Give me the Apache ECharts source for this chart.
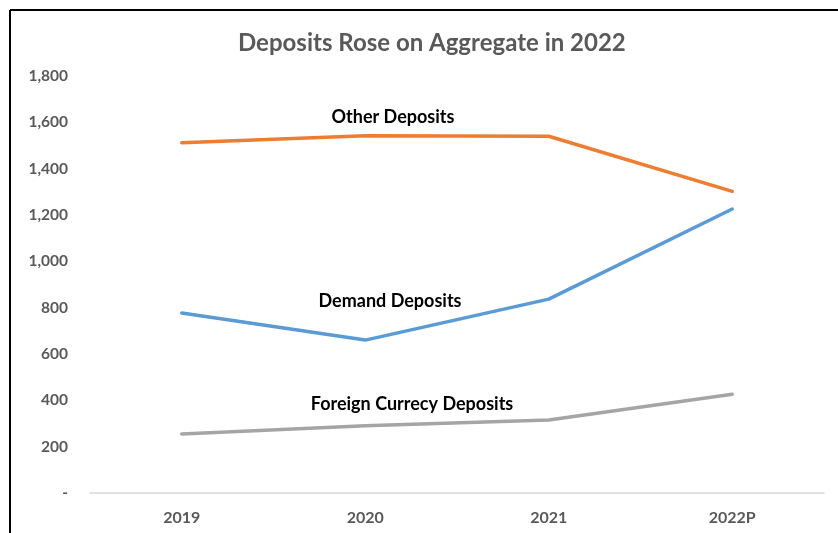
<!DOCTYPE html>
<html>
<head>
<meta charset="utf-8">
<script src="https://cdn.jsdelivr.net/npm/echarts@6/dist/echarts.min.js"></script>
<style>
  html, body { margin: 0; padding: 0; background: #fff; }
  #chart { width: 838px; height: 533px; }
</style>
</head>
<body>
<div id="chart"></div>
<script>
// Deposit totals by year (2022 provisional)
const years = ['2019', '2020', '2021', '2022P'];
const otherDeposits = [1512, 1542, 1540, 1302];
const demandDeposits = [777, 660, 837, 1226];
const foreignCurrencyDeposits = [255, 290, 315, 426];
const yTicks = { min: 0, max: 1800, interval: 200 };

const FONT = 'Lato, "Open Sans", sans-serif';
const GREY = '#595959';

const chart = echarts.init(document.getElementById('chart'), null, { renderer: 'canvas' });

function lineSeries(name, data, color) {
  return {
    name: name,
    type: 'line',
    data: data,
    symbol: 'none',
    lineStyle: { color: color, width: 3.5, cap: 'round', join: 'round' },
    itemStyle: { color: color },
    animation: false
  };
}

chart.setOption({
  backgroundColor: '#fff',
  title: {
    text: 'Deposits Rose on Aggregate in 2022',
    left: 233,
    top: 26,
    textStyle: { fontFamily: FONT, fontSize: 24, fontWeight: 'bold', color: GREY }
  },
  grid: { left: 90, right: 14, top: 76, bottom: 40, containLabel: false },
  xAxis: {
    type: 'category',
    data: years,
    boundaryGap: true,
    axisLine: { lineStyle: { color: '#d9d9d9', width: 1.5 } },
    axisTick: { show: false },
    axisLabel: { fontFamily: FONT, fontSize: 16, fontWeight: 'bold', color: GREY, margin: 17 }
  },
  yAxis: {
    type: 'value',
    min: yTicks.min,
    max: yTicks.max,
    interval: yTicks.interval,
    splitLine: { show: false },
    axisLine: { show: false },
    axisTick: { show: false },
    axisLabel: {
      fontFamily: FONT, fontSize: 15.5, fontWeight: 'bold', color: GREY, margin: 22,
      formatter: v => v === 0 ? '-' : v.toLocaleString('en-US')
    }
  },
  series: [
    lineSeries('Other Deposits', otherDeposits, '#ed7d31'),
    lineSeries('Demand Deposits', demandDeposits, '#5b9bd5'),
    lineSeries('Foreign Currecy Deposits', foreignCurrencyDeposits, '#a5a5a5')
  ],
  graphic: [
    // frame along the top and left edges
    { type: 'line', shape: { x1: 10, y1: 10, x2: 838, y2: 10 }, style: { stroke: '#000', lineWidth: 2 } },
    { type: 'line', shape: { x1: 10, y1: 10, x2: 10, y2: 533 }, style: { stroke: '#000', lineWidth: 2 } },
    { type: 'text', x: 393, y: 117, style: { text: 'Other Deposits', font: 'bold 18px ' + FONT, fill: '#000', align: 'center', verticalAlign: 'middle' } },
    { type: 'text', x: 390, y: 301, style: { text: 'Demand Deposits', font: 'bold 18px ' + FONT, fill: '#000', align: 'center', verticalAlign: 'middle' } },
    { type: 'text', x: 412, y: 404, style: { text: 'Foreign Currecy Deposits', font: 'bold 18px ' + FONT, fill: '#000', align: 'center', verticalAlign: 'middle' } }
  ]
});
</script>
</body>
</html>
